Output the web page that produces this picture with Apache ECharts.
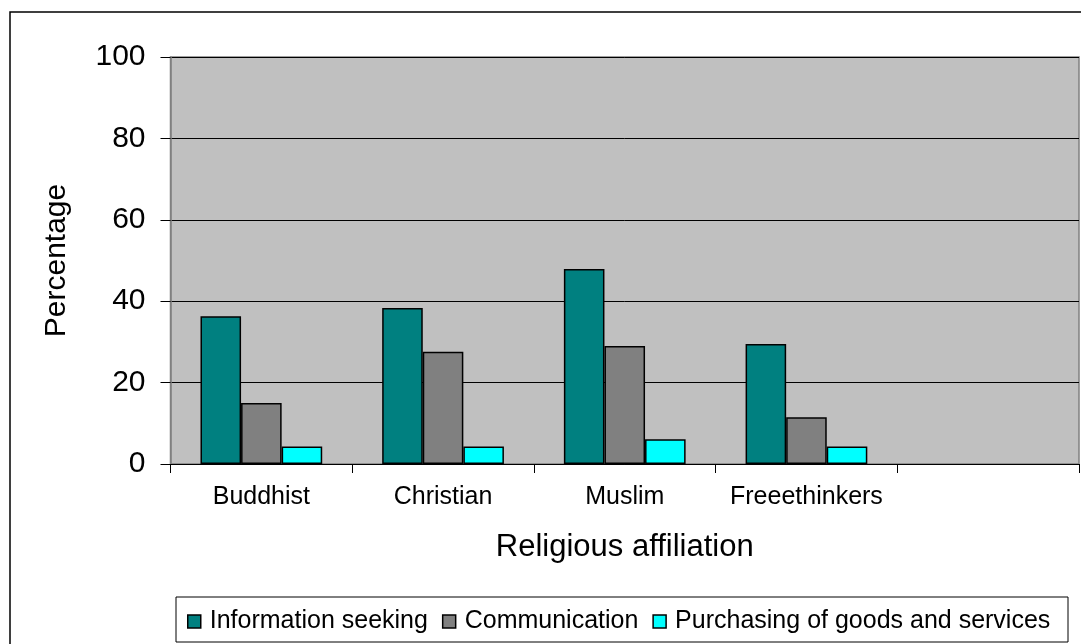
<!DOCTYPE html>
<html><head><meta charset="utf-8">
<script src="https://cdn.jsdelivr.net/npm/echarts@6/dist/echarts.min.js"></script>
<style>html,body{margin:0;padding:0;background:#fff}#c{width:1081px;height:644px}</style>
</head><body><div id="c"></div>
<script>
const categories = ['Buddhist', 'Christian', 'Muslim', 'Freeethinkers', ''];
const infoSeeking = [36.3, 38.3, 47.9, 29.5, null];
const communication = [15.0, 27.6, 29.0, 11.5, null];
const purchasing = [4.3, 4.3, 6.1, 4.3, null];
const seriesNames = ['Information seeking', 'Communication', 'Purchasing of goods and services'];
const yTicks = [0, 20, 40, 60, 80, 100];

const chart = echarts.init(document.getElementById('c'), null, {renderer: 'canvas'});
const font = 'Liberation Sans, Arial, sans-serif';
const barStyle = c => ({color: c, borderColor: '#000', borderWidth: 1.5});
chart.setOption({
  animation: false,
  backgroundColor: '#fff',
  graphic: [
    {type: 'rect', shape: {x: 10, y: 12, width: 1080, height: 640}, style: {fill: 'none', stroke: '#000', lineWidth: 1.5}, z: 0},
    {type: 'rect', shape: {x: 176, y: 597, width: 892, height: 45}, style: {fill: '#fff', stroke: '#000', lineWidth: 1}, z: 0}
  ],
  grid: {left: 170.5, right: 2, top: 57, bottom: 180, show: true, backgroundColor: '#C0C0C0', borderColor: '#808080', borderWidth: 1.5},
  legend: {
    data: seriesNames, left: 182, top: 604, itemWidth: 13, itemHeight: 13, itemGap: 14,
    icon: 'rect',
    textStyle: {fontFamily: font, fontSize: 25, color: '#000', padding: [0, 0, 0, 4]},
    itemStyle: {borderColor: '#000', borderWidth: 1.5}
  },
  xAxis: {
    type: 'category', data: categories,
    name: 'Religious affiliation', nameLocation: 'middle', nameGap: 68,
    nameTextStyle: {fontFamily: font, fontSize: 31, color: '#000'},
    axisLine: {lineStyle: {color: '#000', width: 1}},
    axisTick: {show: true, length: 9, lineStyle: {color: '#000'}},
    axisLabel: {fontFamily: font, fontSize: 25, color: '#000', margin: 21, interval: 0, hideOverlap: false}
  },
  yAxis: {
    type: 'value', min: 0, max: 100, interval: 20,
    name: 'Percentage', nameLocation: 'middle', nameGap: 99, nameRotate: 90,
    nameTextStyle: {fontFamily: font, fontSize: 30, color: '#000'},
    axisLine: {show: true, lineStyle: {color: '#808080', width: 1.5}},
    axisTick: {show: true, length: 10, lineStyle: {color: '#000'}},
    axisLabel: {fontFamily: font, fontSize: 30, color: '#000', margin: 25,
      formatter: v => yTicks.includes(v) ? String(v) : ''},
    splitLine: {show: true, lineStyle: {color: '#000', width: 1}}
  },
  series: [
    {name: seriesNames[0], type: 'bar', data: infoSeeking, itemStyle: barStyle('#008080'), barGap: '0%', barCategoryGap: '33%'},
    {name: seriesNames[1], type: 'bar', data: communication, itemStyle: barStyle('#808080'), barGap: '0%', barCategoryGap: '33%'},
    {name: seriesNames[2], type: 'bar', data: purchasing, itemStyle: barStyle('#00FFFF'), barGap: '0%', barCategoryGap: '33%'}
  ]
});
</script></body></html>
